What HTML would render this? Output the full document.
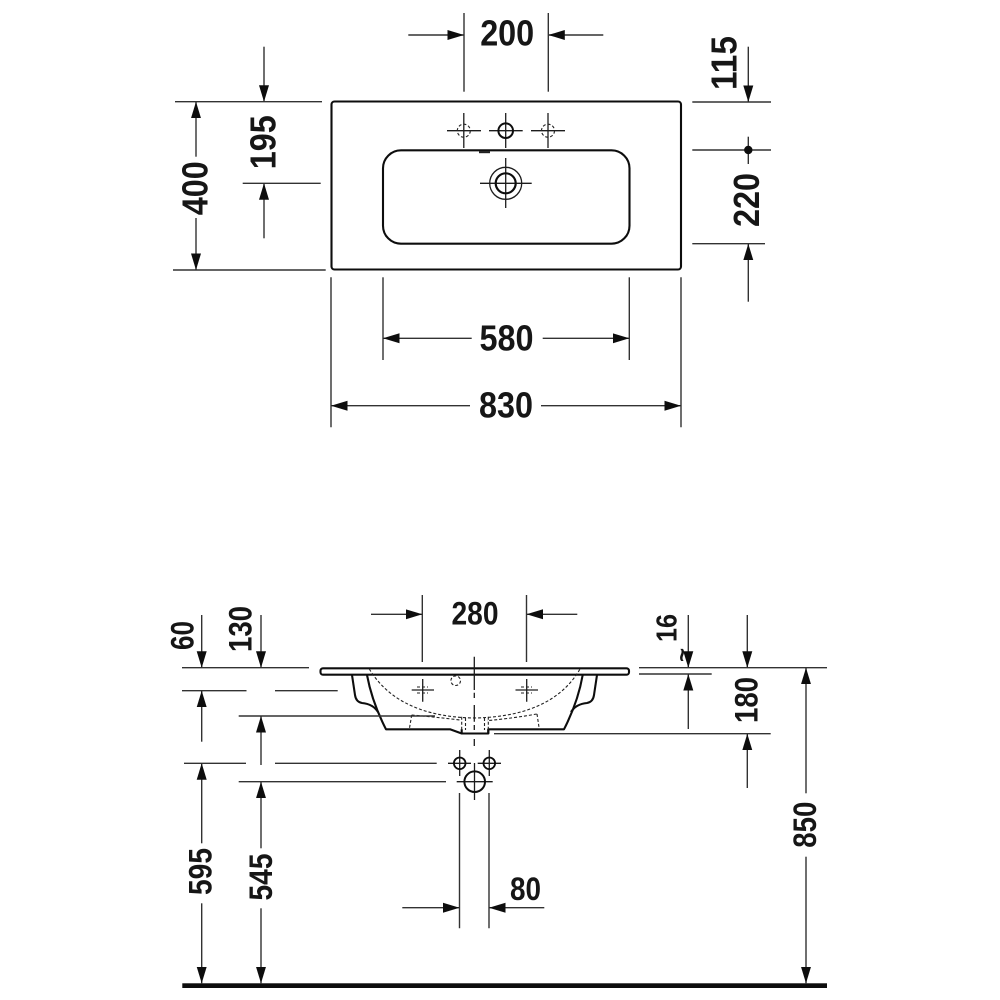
<!DOCTYPE html>
<html>
<head>
<meta charset="utf-8">
<style>
html,body{margin:0;padding:0;background:#fff;}
svg{display:block;}
text{font-family:"Liberation Sans",Arial,sans-serif;font-weight:bold;fill:#161616;}
.l{font-size:36.5px;}
.s{font-size:32.5px;}
.d line{stroke:#333;stroke-width:1.4;fill:none;}
.a line{marker-end:url(#ah);}
.o{stroke:#111;stroke-width:2.1;fill:none;}
.t{stroke:#1c1c1c;stroke-width:1.3;fill:none;}
.h{stroke:#222;stroke-width:1.1;fill:none;stroke-dasharray:3 2;}
</style>
</head>
<body>
<svg width="1000" height="1000" viewBox="0 0 1000 1000" xmlns="http://www.w3.org/2000/svg">
<defs>
<marker id="ah" markerUnits="userSpaceOnUse" markerWidth="17" markerHeight="12" refX="16.5" refY="6" orient="auto">
<path d="M0 1 L16.5 6 L0 11 Z" fill="#111"/>
</marker>
<filter id="soft" x="0" y="0" width="100%" height="100%"><feGaussianBlur stdDeviation="0.3"/></filter>
</defs>
<rect width="1000" height="1000" fill="#fff"/>
<g filter="url(#soft)">

<!-- TOP VIEW -->
<rect class="o" x="331.5" y="101.5" width="349.5" height="168" rx="3"/>
<rect class="o" x="383" y="150.3" width="246.5" height="93.4" rx="18"/>
<path d="M479 152.2H490" stroke="#222" stroke-width="2"/>
<g class="t">
<path d="M447 130.7H481M463.8 113V148"/>
<path d="M489 130.7H522.7M505.7 113V148"/>
<path d="M531 130.7H565M548 113V148"/>
<path d="M480 183.3H531.7M505.7 158V208"/>
<circle cx="505.7" cy="183.3" r="16"/>
</g>
<circle cx="463.8" cy="130.7" r="6.5" class="h"/>
<circle cx="548" cy="130.7" r="6.5" class="h"/>
<circle cx="505.7" cy="130.7" r="7.3" fill="none" stroke="#111" stroke-width="2"/>
<circle cx="505.7" cy="183.3" r="10" fill="none" stroke="#111" stroke-width="2.2"/>

<!-- top dimension lines -->
<g class="d">
<line x1="464" y1="13" x2="464" y2="91.7"/>
<line x1="548.3" y1="13" x2="548.3" y2="91.7"/>
<line x1="692.3" y1="102" x2="771" y2="102"/>
<line x1="692.3" y1="150" x2="771" y2="150"/>
<line x1="748.3" y1="136.7" x2="748.3" y2="164"/>
<line x1="692.3" y1="243.7" x2="765" y2="243.7"/>
<line x1="175" y1="101.7" x2="322" y2="101.7"/>
<line x1="173" y1="270" x2="325.7" y2="270"/>
<line x1="242.7" y1="183.3" x2="320.7" y2="183.3"/>
<line x1="383" y1="277.3" x2="383" y2="360"/>
<line x1="629.3" y1="277.3" x2="629.3" y2="360"/>
<line x1="331" y1="277.3" x2="331" y2="427.3"/>
<line x1="681" y1="277.3" x2="681" y2="427.3"/>
</g>
<circle cx="748.3" cy="150" r="4.2" fill="#111"/>
<g class="d a">
<line x1="408.3" y1="35" x2="464" y2="35"/>
<line x1="603.3" y1="35" x2="548.3" y2="35"/>
<line x1="748.3" y1="46.7" x2="748.3" y2="102"/>
<line x1="748.3" y1="301.7" x2="748.3" y2="243.7"/>
<line x1="196" y1="156.7" x2="196" y2="101.7"/>
<line x1="196" y1="218" x2="196" y2="270"/>
<line x1="264" y1="46.7" x2="264" y2="101.7"/>
<line x1="264" y1="238.3" x2="264" y2="183.3"/>
<line x1="471.7" y1="338.3" x2="383" y2="338.3"/>
<line x1="542.7" y1="338.3" x2="629.3" y2="338.3"/>
<line x1="470" y1="405.7" x2="331" y2="405.7"/>
<line x1="541" y1="405.7" x2="681" y2="405.7"/>
</g>
<text class="l" x="507.2" y="45.7" text-anchor="middle" textLength="54" lengthAdjust="spacingAndGlyphs">200</text>
<text class="l" x="506.5" y="350.7" text-anchor="middle" textLength="54" lengthAdjust="spacingAndGlyphs">580</text>
<text class="l" x="506" y="417.3" text-anchor="middle" textLength="54" lengthAdjust="spacingAndGlyphs">830</text>
<text class="l" transform="translate(207.3 188.3) rotate(-90)" text-anchor="middle" textLength="54" lengthAdjust="spacingAndGlyphs">400</text>
<text class="l" transform="translate(275.3 142.3) rotate(-90)" text-anchor="middle" textLength="54" lengthAdjust="spacingAndGlyphs">195</text>
<text class="l" transform="translate(736.7 63) rotate(-90)" text-anchor="middle" textLength="54" lengthAdjust="spacingAndGlyphs">115</text>
<text class="l" transform="translate(759 200) rotate(-90)" text-anchor="middle" textLength="54" lengthAdjust="spacingAndGlyphs">220</text>

<!-- SECTION VIEW -->
<rect class="o" x="320.5" y="668.3" width="308.5" height="6.4" rx="2.5" fill="#fff"/>
<g class="o" stroke-linejoin="round">
<path d="M352 675 L355 695 Q356 702 362 703 Q373 704 378 712"/>
<path d="M597 675 L594 695 Q593 702 587 703 Q576 704 571 712"/>
<path d="M367 675 Q372 702 386 729.3 H450 L461.7 733.5 H488.3 V729.3 H564 Q578 702 582.7 675"/>
<path d="M461.7 729.3 V733.7 M488.3 729.3 V733.7"/>
</g>
<g class="h" stroke-width="1.2">
<path d="M369.3 669 C385 695 415 717 474 718 C535 717 565 695 580 669"/>
<path d="M411.7 715 Q435 717 460 720"/>
<path d="M536.7 714 Q515 718 487 720.7"/>
<path d="M411.7 715 L409.3 729.3"/>
<path d="M537 714 L539.3 729.3"/>
<path d="M461.7 716.7 V730 M465.5 718 V730 M484.5 718 V730 M488.3 716.7 V730"/>
</g>
<circle cx="455.7" cy="680.7" r="4.8" class="h"/>
<g class="t">
<path d="M411.7 690H434M422.7 679V701.7"/>
<path d="M515.5 690H538M526.7 679V701.7"/>
<path d="M474.3 656.7V690M474.3 692.7V698M474.3 705V721.7M474.3 725V730M474.3 739V746"/>
<path d="M448 763.3H471M459.7 750V776"/>
<path d="M477.7 763.3H501M489.3 750V776"/>
<path d="M456.7 781.7H492.7M474.5 763V800"/>
</g>
<path class="h" d="M417 687h11M417 693h11M521 687h11M521 693h11" stroke-dasharray="2 1.5"/>
<circle cx="459.7" cy="763.3" r="5.8" fill="none" stroke="#111" stroke-width="1.8"/>
<circle cx="489.3" cy="763.3" r="5.8" fill="none" stroke="#111" stroke-width="1.8"/>
<circle cx="474.7" cy="781.7" r="10.3" fill="none" stroke="#111" stroke-width="2"/>

<!-- section dimension lines -->
<g class="d">
<line x1="422.3" y1="595" x2="422.3" y2="662"/>
<line x1="526.5" y1="595" x2="526.5" y2="662"/>
<line x1="182" y1="667.7" x2="309" y2="667.7"/>
<line x1="182" y1="690.7" x2="246.5" y2="690.7"/>
<line x1="275" y1="690.7" x2="337.7" y2="690.7"/>
<line x1="238.7" y1="716" x2="435" y2="716"/>
<line x1="184" y1="763.3" x2="246" y2="763.3"/>
<line x1="275" y1="763.3" x2="436.7" y2="763.3"/>
<line x1="238.7" y1="781.7" x2="446" y2="781.7"/>
<line x1="639" y1="667.7" x2="827" y2="667.7"/>
<line x1="639" y1="674" x2="711.7" y2="674"/>
<line x1="494" y1="733.7" x2="770.7" y2="733.7"/>
<line x1="459.5" y1="793" x2="459.5" y2="928.3"/>
<line x1="489" y1="793" x2="489" y2="928.3"/>
</g>
<g class="d a">
<line x1="371" y1="614.3" x2="422.3" y2="614.3"/>
<line x1="577.3" y1="614.3" x2="526.5" y2="614.3"/>
<line x1="201.7" y1="615" x2="201.7" y2="667.7"/>
<line x1="201.7" y1="741.7" x2="201.7" y2="690.7"/>
<line x1="201.7" y1="843.3" x2="201.7" y2="763.3"/>
<line x1="201.7" y1="903.3" x2="201.7" y2="983.3"/>
<line x1="261" y1="615" x2="261" y2="667.7"/>
<line x1="261" y1="765" x2="261" y2="716"/>
<line x1="261" y1="848.3" x2="261" y2="781.7"/>
<line x1="261" y1="908.3" x2="261" y2="983.3"/>
<line x1="688.3" y1="615" x2="688.3" y2="667.7"/>
<line x1="688.3" y1="729" x2="688.3" y2="674"/>
<line x1="747.3" y1="615" x2="747.3" y2="667.7"/>
<line x1="747.3" y1="788" x2="747.3" y2="733.7"/>
<line x1="806" y1="793.3" x2="806" y2="667.7"/>
<line x1="806" y1="856.7" x2="806" y2="983.3"/>
<line x1="402.3" y1="907.7" x2="459.5" y2="907.7"/>
<line x1="544.3" y1="907.7" x2="489" y2="907.7"/>
</g>
<rect x="182.3" y="983.3" width="644.7" height="4.7" fill="#111"/>

<text class="s" x="475" y="624.3" text-anchor="middle" textLength="47" lengthAdjust="spacingAndGlyphs">280</text>
<text class="s" x="525.5" y="900" text-anchor="middle" textLength="31" lengthAdjust="spacingAndGlyphs">80</text>
<text class="s" transform="translate(193.3 635.5) rotate(-90)" text-anchor="middle" textLength="29" lengthAdjust="spacingAndGlyphs">60</text>
<text class="s" transform="translate(251.7 629) rotate(-90)" text-anchor="middle" textLength="46" lengthAdjust="spacingAndGlyphs">130</text>
<text class="s" transform="translate(211.7 871.5) rotate(-90)" text-anchor="middle" textLength="47" lengthAdjust="spacingAndGlyphs">595</text>
<text class="s" transform="translate(272 877) rotate(-90)" text-anchor="middle" textLength="47" lengthAdjust="spacingAndGlyphs">545</text>
<text class="s" transform="translate(757.7 700) rotate(-90)" text-anchor="middle" textLength="46" lengthAdjust="spacingAndGlyphs">180</text>
<text class="s" transform="translate(816 824.7) rotate(-90)" text-anchor="middle" textLength="46" lengthAdjust="spacingAndGlyphs">850</text>
<text transform="translate(676.7 628) rotate(-90)" text-anchor="middle" font-size="29" textLength="28" lengthAdjust="spacingAndGlyphs">16</text>
<text transform="translate(690 655) rotate(-90)" text-anchor="middle" font-size="24" textLength="14" lengthAdjust="spacingAndGlyphs">~</text>
</g>
</svg>
</body>
</html>
